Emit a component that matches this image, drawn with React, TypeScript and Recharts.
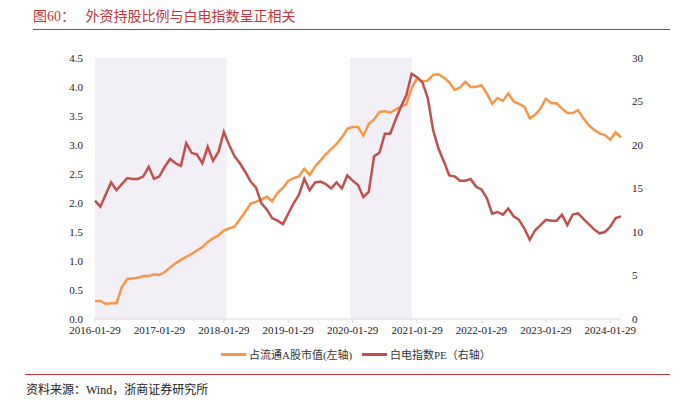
import React from 'react';
import { CartesianGrid, Line, LineChart, ReferenceArea, XAxis, YAxis } from 'recharts';

// monthly, 2016-01 .. 2024-03
const foreignShare = [
  0.31, 0.31, 0.26, 0.27, 0.27, 0.55, 0.69, 0.70, 0.71, 0.74, 0.74, 0.77,
  0.76, 0.81, 0.89, 0.96, 1.02, 1.07, 1.12, 1.18, 1.24, 1.33, 1.39, 1.44,
  1.53, 1.56, 1.59, 1.72, 1.85, 1.99, 2.02, 2.06, 2.11, 2.03, 2.17, 2.26,
  2.38, 2.43, 2.46, 2.59, 2.48, 2.63, 2.73, 2.84, 2.93, 3.02, 3.13, 3.28,
  3.31, 3.31, 3.16, 3.36, 3.44, 3.57, 3.58, 3.56, 3.61, 3.66, 3.70, 3.98,
  4.15, 4.10, 4.11, 4.21, 4.22, 4.16, 4.08, 3.95, 3.99, 4.09, 4.00, 4.00,
  4.03, 3.89, 3.71, 3.81, 3.76, 3.89, 3.75, 3.71, 3.66, 3.46, 3.52, 3.63,
  3.80, 3.72, 3.72, 3.63, 3.55, 3.55, 3.60, 3.46, 3.34, 3.26, 3.20, 3.17,
  3.09, 3.22, 3.13,
];

const appliancePE = [
  13.6, 12.9, 14.3, 15.7, 14.8, 15.5, 16.2, 16.1, 16.1, 16.4, 17.5, 16.1,
  16.4, 17.5, 18.4, 17.9, 17.6, 20.2, 19.1, 18.9, 17.9, 19.8, 18.2, 19.2,
  21.5, 20.0, 18.7, 17.9, 16.9, 15.8, 15.1, 13.3, 12.6, 11.6, 11.3, 10.9,
  12.1, 13.3, 14.3, 16.1, 14.8, 15.7, 15.8, 15.5, 15.0, 15.7, 15.0, 16.5,
  15.9, 15.4, 14.0, 14.6, 18.7, 19.1, 21.3, 21.3, 22.9, 24.4, 25.7, 28.2,
  27.8, 27.2, 25.4, 21.7, 19.6, 18.1, 16.5, 16.4, 15.9, 15.9, 16.1, 15.2,
  14.9, 13.9, 12.1, 12.3, 12.0, 12.7, 11.8, 11.4, 10.4, 9.1, 10.2, 10.8,
  11.4, 11.3, 11.3, 12.0, 10.8, 12.0, 12.15, 11.5, 10.9, 10.3, 9.85, 10.0,
  10.6, 11.6, 11.8,
];

const xTicks = [0, 12, 24, 36, 48, 60, 72, 84, 96];
const xTickLabels = [
  '2016-01-29', '2017-01-29', '2018-01-29', '2019-01-29', '2020-01-29',
  '2021-01-29', '2022-01-29', '2023-01-29', '2024-01-29',
];
const leftTicks = [0, 0.5, 1, 1.5, 2, 2.5, 3, 3.5, 4, 4.5];
const rightTicks = [0, 5, 10, 15, 20, 25, 30];
// shaded periods, in month index
const shaded = [
  [0, 24.5],
  [47.5, 59],
];

const data = foreignShare.map((v, i) => ({ m: i, share: v, pe: appliancePE[i] }));

const ORANGE = '#F79646';
const RED = '#C0504D';
const TITLE_RED = '#C0363C';
const FONT = '"Liberation Serif", "Noto Sans CJK SC", serif';

const LegendItem: React.FC<{ color: string; label: string; left: number }> = ({ color, label, left }) => (
  <div style={{ position: 'absolute', left, top: 346, display: 'flex', alignItems: 'center', fontSize: 11, color: '#333' }}>
    <span style={{ display: 'inline-block', width: 25, height: 3, background: color, marginRight: 3 }} />
    <span>{label}</span>
  </div>
);

export default function App() {
  return (
    <div style={{ position: 'absolute', left: 0, top: 0, width: 686, height: 403, background: '#fff', fontFamily: FONT, overflow: 'hidden' }}>
      <div style={{ position: 'absolute', left: 33, top: 5, fontSize: 14, color: TITLE_RED, whiteSpace: 'pre' }}>
        {'图60：   外资持股比例与白电指数呈正相关'}
      </div>
      <div style={{ position: 'absolute', left: 33, top: 29, width: 637, height: 1, background: TITLE_RED }} />

      <div style={{ position: 'absolute', left: 0, top: 0 }}>
        <LineChart width={686} height={403} data={data} margin={{ top: 58, right: 25, bottom: 54, left: 55 }}>
          <CartesianGrid vertical={false} horizontal={false} />
          {shaded.map(([a, b], i) => (
            <ReferenceArea key={i} x1={a} x2={b} yAxisId="left" fill="#F2F0F6" fillOpacity={1} stroke="none" />
          ))}
          <XAxis
            dataKey="m"
            type="number"
            domain={[0, 98]}
            ticks={xTicks}
            tickFormatter={(v: number) => xTickLabels[xTicks.indexOf(v)] ?? ''}
            stroke="#D9D9D9"
            tickSize={4}
            tickMargin={3}
            height={30}
            tick={{ fontSize: 11, fill: '#222', fontFamily: FONT }}
            interval={0}
          />
          <YAxis
            yAxisId="left"
            domain={[0, 4.5]}
            ticks={leftTicks}
            tickFormatter={(v: number) => v.toFixed(1)}
            axisLine={false}
            tickLine={false}
            width={40}
            tickMargin={6}
            tick={{ fontSize: 11, fill: '#222', fontFamily: FONT }}
          />
          <YAxis
            yAxisId="right"
            orientation="right"
            domain={[0, 30]}
            ticks={rightTicks}
            axisLine={false}
            tickLine={false}
            width={40}
            tickMargin={5}
            tick={{ fontSize: 11, fill: '#222', fontFamily: FONT }}
          />
          <Line yAxisId="left" type="linear" dataKey="share" stroke={ORANGE} strokeWidth={2.5} dot={false} isAnimationActive={false} />
          <Line yAxisId="right" type="linear" dataKey="pe" stroke={RED} strokeWidth={2.5} dot={false} isAnimationActive={false} />
        </LineChart>
      </div>

      <LegendItem color={ORANGE} label="占流通A股市值(左轴)" left={221} />
      <LegendItem color={RED} label="白电指数PE（右轴）" left={362} />

      <div style={{ position: 'absolute', left: 25, top: 374, width: 645, height: 1, background: TITLE_RED }} />
      <div style={{ position: 'absolute', left: 26, top: 380, fontSize: 12, color: '#222' }}>
        资料来源：Wind，浙商证券研究所
      </div>
    </div>
  );
}
